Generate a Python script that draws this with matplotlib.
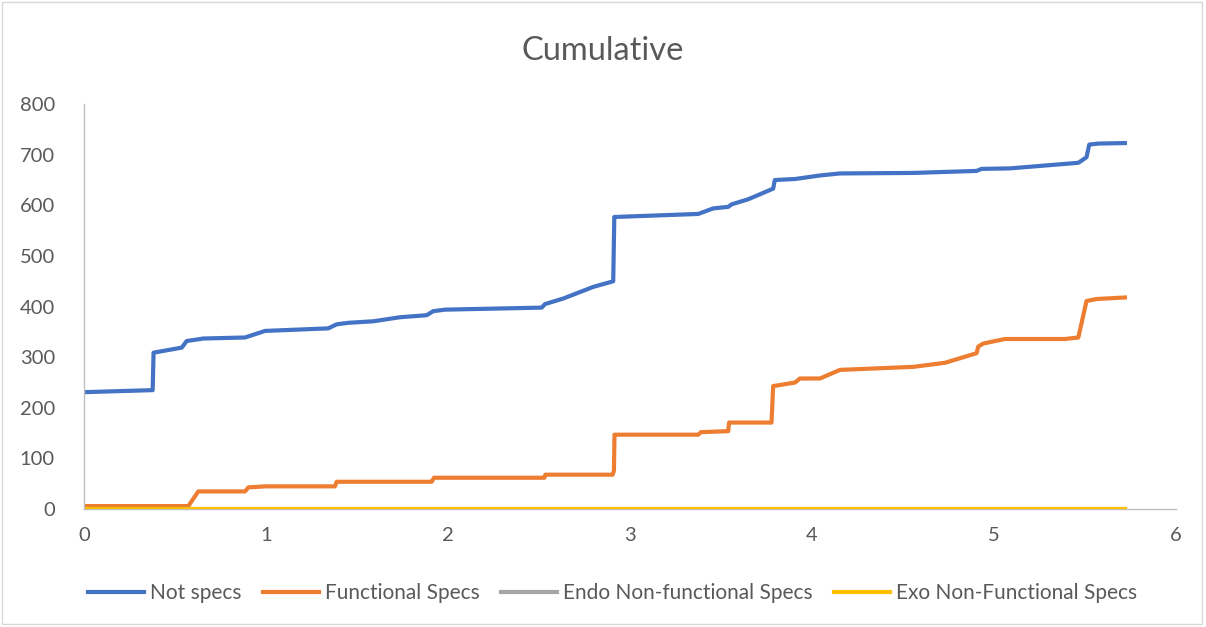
import matplotlib.pyplot as plt
from matplotlib.patches import Rectangle

plt.rcParams['font.family'] = ['Lato', 'DejaVu Sans']

# datos
t_not = [0, 0.377, 0.382, 0.537, 0.564, 0.656, 0.885, 0.995, 1.342, 1.388, 1.452, 1.59, 1.736, 1.883,
         1.919, 1.984, 2.515, 2.533, 2.634, 2.799, 2.908, 2.914, 3.375, 3.458, 3.54, 3.559, 3.65, 3.787,
         3.796, 3.907, 4.044, 4.154, 4.557, 4.905, 4.932, 5.088, 5.464, 5.509, 5.524, 5.573, 5.72]
not_specs = [231, 235, 309, 319, 332, 337, 339, 352, 357, 365, 368, 371, 379, 383,
             391, 394, 398, 405, 416, 439, 450, 577, 583, 594, 597, 602, 612, 633,
             650, 652, 659, 663, 664, 668, 672, 673, 684, 695, 720, 722, 723]

t_func = [0, 0.573, 0.628, 0.885, 0.903, 1.0, 1.379, 1.388, 1.91, 1.923, 2.53, 2.535, 2.905, 2.912,
          2.915, 3.375, 3.39, 3.54, 3.545, 3.778, 3.787, 3.907, 3.934, 4.044, 4.154, 4.557, 4.731,
          4.905, 4.914, 4.941, 5.06, 5.39, 5.464, 5.509, 5.564, 5.72]
functional = [6, 6, 35, 35, 43, 45, 45, 54, 54, 62, 62, 68, 68, 76,
              147, 147, 152, 154, 171, 171, 243, 250, 258, 258, 275, 281, 289,
              308, 321, 327, 336, 336, 339, 411, 415, 418]

t_zero = [0, 5.72]
endo = [0, 0]
exo = [0, 0]

etiquetas = ['Not specs', 'Functional Specs', 'Endo Non-functional Specs', 'Exo Non-Functional Specs']
colores = ['#4472C4', '#ED7D31', '#A5A5A5', '#FFC000']
gris = '#595959'

fig = plt.figure(figsize=(12.06, 6.27), dpi=100)
ax = fig.add_axes([0.0697, 0.188, 0.9053, 0.646])

ax.plot(t_not, not_specs, color=colores[0], lw=3.0, label=etiquetas[0], solid_joinstyle='round')
ax.plot(t_func, functional, color=colores[1], lw=3.0, label=etiquetas[1], solid_joinstyle='round')
ax.plot(t_zero, endo, color=colores[2], lw=3.0, label=etiquetas[2])
ax.plot(t_zero, exo, color=colores[3], lw=3.0, label=etiquetas[3])

ax.set_xlim(0, 6)
ax.set_ylim(0, 800)
ax.set_xticks(range(0, 7))
ax.set_yticks(range(0, 801, 100))
ax.tick_params(length=0, labelsize=14.5, colors=gris)
ax.tick_params(axis='x', pad=13)
ax.tick_params(axis='y', pad=21)

for lado in ['top', 'right']:
    ax.spines[lado].set_visible(False)
for lado in ['left', 'bottom']:
    ax.spines[lado].set_color('#BFBFBF')
    ax.spines[lado].set_linewidth(1)
ax.spines['bottom'].set_zorder(0)

fig.text(0.5, 0.918, 'Cumulative', ha='center', va='center', fontsize=23.5, color=gris)

ax.legend(loc='center', bbox_to_anchor=(0.508, 0.054), bbox_transform=fig.transFigure,
          ncol=4, frameon=False, fontsize=15, labelcolor=gris, handlelength=2.7,
          columnspacing=1.0, handletextpad=0.3)

fig.patches.append(Rectangle((0.002, 0.004), 0.995, 0.993, transform=fig.transFigure,
                             fill=False, edgecolor='#D9D9D9', lw=1))

plt.savefig('out.png', dpi=100)
